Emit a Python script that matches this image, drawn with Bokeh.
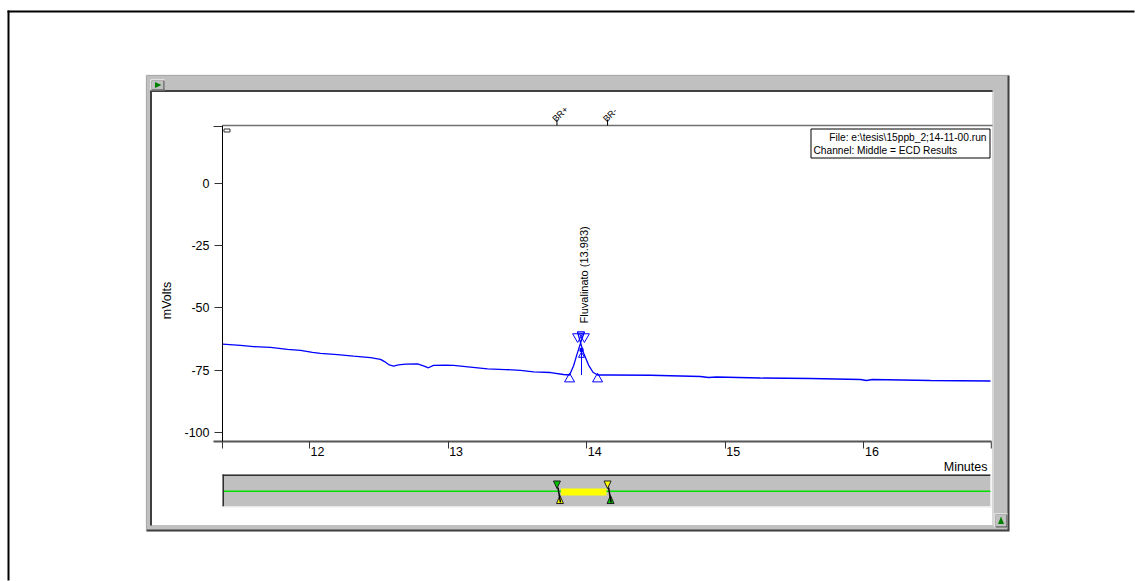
import math
from bokeh.plotting import figure
from bokeh.models import BoxAnnotation, Label, PolyAnnotation, FixedTicker, Range1d
from bokeh.core.properties import value
from bokeh.embed import file_html
from bokeh.resources import INLINE

# ECD detector signal, middle channel: retention time (min) and response (mV)
time_min = [11.372, 11.502, 11.596, 11.718, 11.841, 11.935, 12.021, 12.079, 12.202,
            12.317, 12.440, 12.512, 12.541, 12.570, 12.606, 12.642, 12.692, 12.779,
            12.822, 12.858, 12.894, 12.981, 13.039, 13.161, 13.284, 13.414, 13.522,
            13.616, 13.739, 13.832, 13.876, 13.905, 13.926, 13.950, 13.966, 13.983,
            13.933, 13.955, 13.977, 14.013, 14.045, 14.078, 14.172, 14.460,
            14.821, 14.878, 14.936, 15.253, 15.614, 15.975, 16.018, 16.061, 16.480, 16.913]
signal_mv = [-64.6, -65.1, -65.6, -65.9, -66.7, -67.1, -67.9, -68.3, -68.8,
             -69.4, -70.0, -70.7, -71.6, -72.8, -73.4, -72.9, -72.6, -72.5,
             -73.3, -74.1, -73.1, -73.0, -73.1, -73.8, -74.5, -74.8, -75.1,
             -75.7, -76.0, -76.8, -77.0, -73.3, -69.3, -65.1, -62.3, -59.7,
             -59.7, -64.0, -68.2, -73.0, -75.9, -77.0, -77.0, -77.1,
             -77.6, -78.0, -77.8, -78.2, -78.4, -78.8, -79.2, -78.8, -79.2, -79.4]

x_window = (11.372, 16.920)
y_window = (-103.7, 23.2)
x_ticks = [12, 13, 14, 15, 16]
y_ticks = [-100, -75, -50, -25, 0]

# identified peak
peak_name = "Fluvalinato"
peak_rt = 13.983
peak_bounds_t = [13.876, 14.078]      # integration start / end
peak_bounds_mv = [-78.6, -78.6]
apex_marks_t = [13.934, peak_rt]
apex_marks_mv = [-61.6, -61.6]
drop_t = 13.962
drop_mv = [-66.9, -77.0]
label_mv = -56.3

# timed integration events
event_t = [13.785, 14.150]
event_names = ["BR+", "BR-"]

file_text = "File: e:\\tesis\\15ppb_2;14-11-00.run"
channel_text = "Channel: Middle = ECD Results"

FONT = "Liberation Sans"
W, H = 1135, 581
FL, FR, FT, FB = 222, 991, 125, 441          # chart area inside the page, px

px_per_min = (FR - FL) / (x_window[1] - x_window[0])
px_per_mv = (FB - FT) / (y_window[1] - y_window[0])
x_full = (x_window[0] - FL / px_per_min, x_window[1] + (W - FR) / px_per_min)
y_full = (y_window[0] - (H - FB) / px_per_mv, y_window[1] + FT / px_per_mv)
d = 1.0 / px_per_min

p = figure(width=W, height=H, x_range=Range1d(*x_full), y_range=Range1d(*y_full),
           output_backend="svg", toolbar_location=None, min_border=0)
p.xgrid.grid_line_color = None
p.ygrid.grid_line_color = None
p.outline_line_color = None
p.background_fill_color = "white"
p.border_fill_color = "white"


def cbox(l, t, r, b, fill=None, line=None, lw=1, level="underlay",
         xunits="canvas"):
    p.add_layout(BoxAnnotation(
        left=l, right=r, top=t, bottom=b,
        left_units=xunits, right_units=xunits,
        top_units="canvas", bottom_units="canvas",
        fill_color=fill, fill_alpha=1.0,
        line_color=line, line_alpha=1.0, line_width=lw, level=level))


def cpoly(xs, ys, fill=None, line=None, lw=1, xunits="canvas", level="annotation"):
    p.add_layout(PolyAnnotation(
        xs=xs, ys=ys, xs_units=xunits, ys_units="canvas",
        fill_color=fill, fill_alpha=1.0,
        line_color=line, line_alpha=1.0, line_width=lw, level=level))


def ctext(text, x, y, size="12.5px", align="left", baseline="middle",
          angle=0.0, xunits="canvas", x_offset=0):
    p.add_layout(Label(
        x=x, y=y, x_units=xunits, y_units="canvas", text=text,
        text_font=FONT, text_font_size=size, text_align=align,
        text_baseline=baseline, angle=angle, x_offset=x_offset,
        text_color="black"))


# ---- page border (left and top edges) and window chrome
cbox(7, 10, 9, H - 1, fill="black")
cbox(7, 10, W - 1, 12, fill="black")
cbox(145, 74, 1009, 531, fill="#e8e8e8")
cbox(146, 75, 1009, 531, fill="#404040")
cbox(146, 75, 1007, 529, fill="#c0c0c0")
cbox(149.5, 89.5, 992, 525, fill="#404040")
cbox(151.5, 91.5, 992, 525, fill="white")
cbox(992, 91.5, 993, 525, fill="#f0f0f0")

# title-bar button
cbox(150, 79, 164, 90, fill="white")
cbox(151, 80, 164, 90, fill="#404040")
cbox(151, 80, 163, 89, fill="#c0c0c0")
cpoly([154.5, 154.5, 161], [81.5, 87.5, 84.5], fill="#008000", level="underlay")

# scroll button, lower right
cbox(994, 513, 1007, 527, fill="white")
cbox(995, 514, 1007, 527, fill="#404040")
cbox(995, 514, 1006, 526, fill="#c0c0c0")
cpoly([997.5, 1003.5, 1000.5], [523.5, 523.5, 516], fill="#008000", level="underlay")

# ---- chart frame details
cbox(FL, 124.3, 992, 125.8, fill="#707070")
cbox(213, 125.5, FL, 126.5, fill="#333333")
cbox(213, 440, FL, 442, fill="#555555")
cbox(221.5, 441, 222.5, 448, fill="#333333")
cbox(990.3, 441, 991.3, 448, fill="#333333")
cbox(223.5, 128.5, 229.5, 131.5, line="#333333", lw=1)

# ---- axes, pinned to the chart area
yax = p.yaxis[0]
yax.fixed_location = x_window[0]
yax.bounds = y_window
yax.ticker = FixedTicker(ticks=y_ticks, minor_ticks=[])
yax.major_label_overrides = {t: str(t) for t in y_ticks}
yax.major_tick_out = 8
yax.major_tick_in = 0
yax.minor_tick_out = 0
yax.minor_tick_in = 0
yax.axis_line_color = "black"
yax.major_tick_line_color = "#333333"
yax.major_label_text_font = FONT
yax.major_label_text_font_size = "12.5px"
yax.major_label_text_color = "black"
yax.major_label_standoff = 5

xax = p.xaxis[0]
xax.fixed_location = y_window[0]
xax.bounds = x_window
xax.ticker = FixedTicker(ticks=x_ticks, minor_ticks=[])
xax.major_tick_out = 7
xax.major_tick_in = 0
xax.minor_tick_out = 0
xax.minor_tick_in = 0
xax.axis_line_color = "#555555"
xax.axis_line_width = 2
xax.major_tick_line_color = "#333333"
xax.major_label_text_color = None

for t in x_ticks:
    ctext(str(t), t, 446.5, align="left", baseline="top", xunits="data", x_offset=1)
ctext("Minutes", 987, 466, align="right")
ctext("mVolts", 166, 300, align="center", angle=math.pi / 2)

# ---- chromatogram
BLUE = "#0000ff"
p.line(time_min, signal_mv, line_color=BLUE, line_width=1.3)
p.scatter(peak_bounds_t, peak_bounds_mv, marker="triangle", size=10,
          fill_alpha=0, line_color=BLUE, line_width=1)
p.scatter(apex_marks_t, apex_marks_mv, marker="inverted_triangle", size=10,
          fill_alpha=0, line_color=BLUE, line_width=1)
p.segment(x0=[drop_t], y0=[drop_mv[0]], x1=[drop_t], y1=[drop_mv[1]],
          line_color=BLUE, line_width=1)
p.scatter([drop_t], [-69.2], marker="triangle", size=6, fill_alpha=0,
          line_color=BLUE, line_width=1)
p.scatter([drop_t], [drop_mv[0]], marker="square", size=3, fill_color=BLUE,
          line_color=BLUE)
p.text(x=[peak_rt], y=[label_mv], text=[f"{peak_name} ({peak_rt:.3f})"],
       angle=math.pi / 2, text_align="left", text_baseline="middle",
       text_font=value(FONT), text_font_size="11px", text_color="black")

# ---- file / channel box
cbox(810.5, 128.5, 989.5, 157.5, fill="white", line="black", lw=1, level="annotation")
ctext(file_text, 986, 136.5, size="10.2px", align="right")
ctext(channel_text, 813, 150, size="10.2px", align="left")

# ---- timed events above the chart
for t, name in zip(event_t, event_names):
    cpoly([t, t], [119, 125], line="black", lw=1, xunits="data")
    ctext(name, t, 120, size="9px", align="left", angle=math.pi / 4,
          xunits="data", x_offset=-3)

# ---- event bar below the chart
OT, OB = 474, 506
cbox(FL, OT, 990, OB, fill="#c0c0c0")
cbox(FL, OT, 990, OT + 1.5, fill="#303030")
cbox(FL, OT, FL + 1.5, OB, fill="#303030")
cbox(FL, OB, 991.5, OB + 1.5, fill="#f4f4f4")
cbox(990, OT, 991.5, OB + 1.5, fill="#f4f4f4")
cbox(FL + 1.5, 490, 990, 491.5, fill="#00e000")
cbox(event_t[0] + 4 * d, 488, event_t[1] - 1 * d, 495, fill="#ffff00", xunits="data")

top_cols = ["#00c000", "#ffff00"]
bot_cols = ["#ffff00", "#00c000"]
for t, tc, bc in zip(event_t, top_cols, bot_cols):
    cpoly([t - 3.5 * d, t + 3.5 * d, t], [480.5, 480.5, 488],
          fill=tc, line="#202020", xunits="data")
    cpoly([t - 0.5 * d, t + 6.5 * d, t + 3 * d], [503, 503, 495],
          fill=bc, line="#202020", xunits="data")
    cpoly([t + 1 * d, t + 3.5 * d], [487, 502], line="black", lw=1.5, xunits="data")

open("out.html", "w").write(file_html(p, INLINE))
